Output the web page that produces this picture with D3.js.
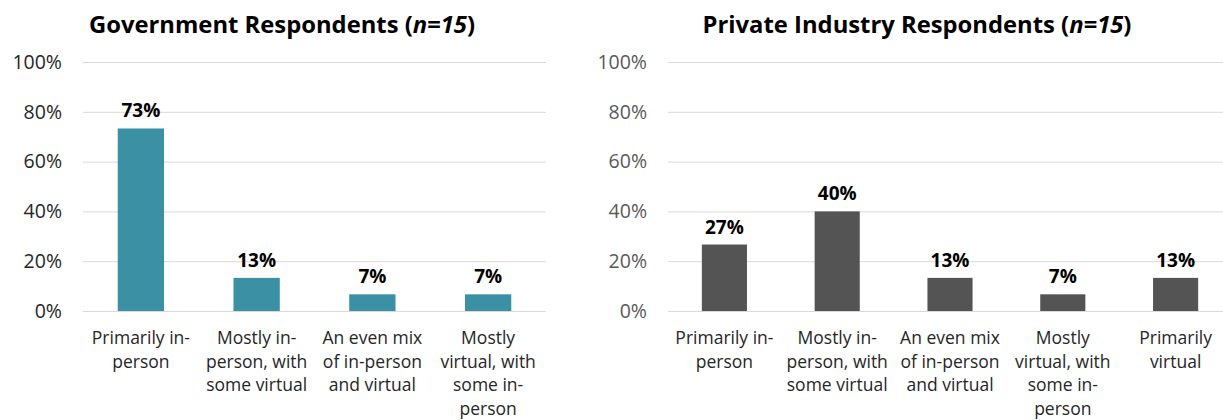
<!DOCTYPE html>
<html>
<head>
<meta charset="utf-8">
<script src="https://cdnjs.cloudflare.com/ajax/libs/d3/7.8.5/d3.min.js"></script>
<style>
    body { margin: 0; background: #ffffff; }
    svg { display: block; font-family: "Open Sans", sans-serif; }
</style>
</head>
<body>
<div id="chart"></div>
<script>
// Chart data
const govTitle = "Government Respondents";
const privTitle = "Private Industry Respondents";
const sampleNote = "n=15";

const govCategories = [
    "Primarily in-\nperson",
    "Mostly in-\nperson, with\nsome virtual",
    "An even mix\nof in-person\nand virtual",
    "Mostly\nvirtual, with\nsome in-\nperson"
];
const govValues = [73.3, 13.3, 6.7, 6.7];

const privCategories = [
    "Primarily in-\nperson",
    "Mostly in-\nperson, with\nsome virtual",
    "An even mix\nof in-person\nand virtual",
    "Mostly\nvirtual, with\nsome in-\nperson",
    "Primarily\nvirtual"
];
const privValues = [26.7, 40.0, 13.3, 6.7, 13.3];

const yTicks = [0, 20, 40, 60, 80, 100];

const width = 1223, height = 420;

const svg = d3.select("#chart")
    .append("svg")
        .attr("width", width)
        .attr("height", height);

function drawPanel(opts) {
    const g = svg.append("g");

    const x = d3.scaleBand()
        .domain(opts.categories)
        .range([opts.left, opts.right])
        .paddingInner(0.6)
        .paddingOuter(0.3);

    const y = d3.scaleLinear()
        .domain([0, 100])
        .range([311, 62]);

    // gridlines + y labels
    const yAxis = g.append("g")
        .attr("transform", `translate(${opts.left},0)`)
        .call(d3.axisLeft(y)
            .tickValues(yTicks)
            .tickSize(-(opts.gridRight - opts.left))
            .tickPadding(21)
            .tickFormat(d => d + "%"));
    yAxis.select(".domain").remove();
    yAxis.selectAll("line")
        .attr("stroke", "#d9d9d9")
        .attr("stroke-width", 1);
    yAxis.selectAll("text")
        .attr("font-size", 19.5)
        .attr("font-family", "'Open Sans', sans-serif")
        .attr("fill", opts.tickColor);

    // bars
    g.selectAll(".bar")
        .data(opts.values)
        .enter().append("rect")
            .attr("x", (d, i) => x(opts.categories[i]))
            .attr("y", d => y(d))
            .attr("width", x.bandwidth())
            .attr("height", d => y(0) - y(d))
            .attr("fill", opts.color);

    // value labels
    g.selectAll(".value")
        .data(opts.values)
        .enter().append("text")
            .attr("x", (d, i) => x(opts.categories[i]) + x.bandwidth() / 2)
            .attr("y", d => y(d) - 11)
            .attr("text-anchor", "middle")
            .attr("font-size", 19)
            .attr("font-weight", "bold")
            .attr("fill", "#000")
            .text(d => Math.round(d) + "%");

    // category labels (multi-line)
    const xAxis = g.append("g")
        .attr("transform", `translate(0,${y(0)})`)
        .call(d3.axisBottom(x).tickSize(0).tickFormat(""));
    xAxis.select(".domain").remove();
    xAxis.selectAll(".tick text").remove();
    xAxis.selectAll(".tick").append("text")
        .attr("text-anchor", "middle")
        .attr("font-size", 17.5)
        .attr("font-family", "'Open Sans', sans-serif")
        .attr("fill", "#262626")
        .each(function(d) {
            const t = d3.select(this);
            d.split("\n").forEach((line, i) => {
                t.append("tspan")
                    .attr("x", 0)
                    .attr("y", 33 + i * 23.5)
                    .text(line);
            });
        });

    // title
    const title = g.append("text")
        .attr("x", opts.titleX)
        .attr("y", 33)
        .attr("text-anchor", "middle")
        .attr("font-size", 23.8)
        .attr("font-weight", "bold")
        .attr("fill", "#000");
    title.append("tspan").text(opts.title + " (");
    title.append("tspan").attr("font-style", "italic").text(sampleNote);
    title.append("tspan").text(")");
}

drawPanel({
    title: govTitle,
    categories: govCategories,
    values: govValues,
    left: 83, right: 546, gridRight: 546,
    titleX: 282,
    color: "#3b90a4",
    tickColor: "#262626"
});

drawPanel({
    title: privTitle,
    categories: privCategories,
    values: privValues,
    left: 668, right: 1232, gridRight: 1223,
    titleX: 917,
    color: "#545454",
    tickColor: "#595959"
});
</script>
</body>
</html>
